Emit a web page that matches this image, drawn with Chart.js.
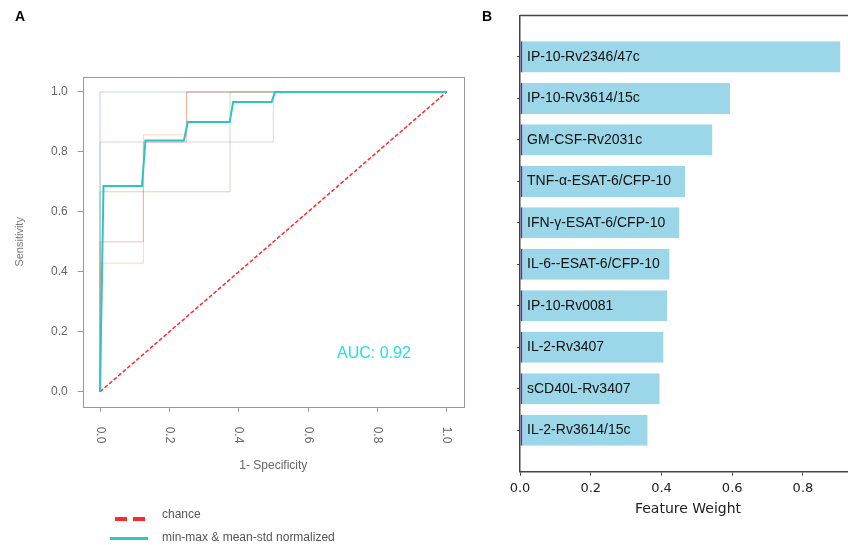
<!DOCTYPE html>
<html>
<head>
<meta charset="utf-8">
<script src="https://cdn.jsdelivr.net/npm/chart.js@4/dist/chart.umd.min.js"></script>
<style>
  body { margin: 0; width: 848px; height: 545px; overflow: hidden; background: #fff; position: relative; font-family: "Liberation Sans", Arial, sans-serif; }
  #roc { position: absolute; left: 0; top: 0; }
  #weights { position: absolute; left: 490px; top: 0; }
  .panel { position: absolute; font-weight: bold; font-size: 14px; line-height: 15px; color: #000; }
  .leg { position: absolute; font-size: 12px; color: #555; line-height: 14px; }
  .sw { position: absolute; }
</style>
</head>
<body>
<canvas id="roc" width="500" height="545"></canvas>
<canvas id="weights" width="370" height="545"></canvas>
<div class="panel" style="left:15px;top:9px">A</div>
<div class="panel" style="left:482px;top:9px">B</div>

<!-- legend for panel A -->
<div class="sw" style="left:115px;top:517px;width:12px;height:4px;background:#ff2a2a"></div>
<div class="sw" style="left:133px;top:517px;width:12px;height:4px;background:#ff2a2a"></div>
<div class="leg" style="left:162px;top:507px">chance</div>
<div class="sw" style="left:110px;top:537px;width:38px;height:3px;background:#2ec8c8"></div>
<div class="leg" style="left:162px;top:530px">min-max &amp; mean-std normalized</div>

<script>
// ROC curves, one per fold (1 - specificity, sensitivity)
const fold1Fpr = [0, 0, 1];
const fold1Tpr = [0, 1, 1];
const fold2Fpr = [0, 0, 0.125, 0.125, 0.25, 0.25, 1];
const fold2Tpr = [0, 0.429, 0.429, 0.857, 0.857, 1, 1];
const fold3Fpr = [0, 0, 0.375, 0.375, 1];
const fold3Tpr = [0, 0.667, 0.667, 1, 1];
const fold4Fpr = [0, 0, 0.125, 0.125, 0.25, 0.25, 1];
const fold4Tpr = [0, 0.5, 0.5, 0.833, 0.833, 1, 1];
const fold5Fpr = [0, 0, 0.5, 0.5, 1];
const fold5Tpr = [0, 0.833, 0.833, 1, 1];
const foldColors = ["rgba(31,119,180,0.3)", "rgba(255,127,14,0.3)", "rgba(44,160,44,0.3)", "rgba(214,39,40,0.3)", "rgba(148,103,189,0.3)"];

const meanFpr = [0, 0.01, 0.121, 0.131, 0.242, 0.253, 0.374, 0.384, 0.495, 0.505, 1];
const meanTpr = [0, 0.686, 0.686, 0.838, 0.838, 0.9, 0.9, 0.967, 0.967, 1, 1];
const chanceFpr = [0, 1];
const chanceTpr = [0, 1];
const aucText = "AUC: 0.92";

// feature weights for panel B
const featureNames = [
  "IP-10-Rv2346/47c", "IP-10-Rv3614/15c", "GM-CSF-Rv2031c", "TNF-\u03b1-ESAT-6/CFP-10",
  "IFN-\u03b3-ESAT-6/CFP-10", "IL-6--ESAT-6/CFP-10", "IP-10-Rv0081", "IL-2-Rv3407",
  "sCD40L-Rv3407", "IL-2-Rv3614/15c"
];
const featureWeights = [0.906, 0.594, 0.544, 0.467, 0.451, 0.423, 0.417, 0.406, 0.395, 0.361];

const pts = (xs, ys) => xs.map((x, i) => ({ x, y: ys[i] }));

const folds = [[fold1Fpr, fold1Tpr], [fold2Fpr, fold2Tpr], [fold3Fpr, fold3Tpr], [fold4Fpr, fold4Tpr], [fold5Fpr, fold5Tpr]];

// box, clockwise x labels and AUC text
const rocDecor = {
  id: "rocDecor",
  afterDraw(chart) {
    const { ctx, chartArea: a, scales: { x, y } } = chart;
    ctx.save();
    ctx.strokeStyle = "#999";
    ctx.lineWidth = 1;
    ctx.strokeRect(Math.round(a.left) + 0.5, Math.round(a.top) + 0.5, Math.round(a.width), Math.round(a.height));

    ctx.fillStyle = "#666";
    ctx.font = '12px "Liberation Sans", Arial, sans-serif';
    ctx.textAlign = "left";
    ctx.textBaseline = "middle";
    x.ticks.forEach(t => {
      ctx.save();
      ctx.translate(x.getPixelForValue(t.value), a.bottom + 20);
      ctx.rotate(Math.PI / 2);
      ctx.fillText(t.value.toFixed(1), 0, 0);
      ctx.restore();
    });

    ctx.fillStyle = "#1ee0ee";
    ctx.font = '16px "Liberation Sans", Arial, sans-serif';
    ctx.textAlign = "center";
    ctx.fillText(aucText, x.getPixelForValue(0.79), y.getPixelForValue(0.126));
    ctx.restore();
  }
};

new Chart(document.getElementById("roc"), {
  type: "scatter",
  data: {
    datasets: [
      { data: pts(meanFpr, meanTpr), showLine: true, borderColor: "#2ec4c4", borderWidth: 2, order: 0 },
      { data: pts(chanceFpr, chanceTpr), showLine: true, borderColor: "#ff2a2a", borderWidth: 1.5, borderDash: [4, 2], order: 1 },
      ...folds.map((f, i) => ({ data: pts(f[0], f[1]), showLine: true, borderColor: foldColors[i], borderWidth: 1, order: 2 }))
    ]
  },
  options: {
    responsive: false,
    animation: false,
    layout: { padding: { top: 77, right: 36, left: 0, bottom: 0 } },
    elements: { point: { radius: 0 }, line: { tension: 0 } },
    plugins: { legend: { display: false }, tooltip: { enabled: false } },
    scales: {
      x: {
        type: "linear", min: -0.05, max: 1.05,
        ticks: { stepSize: 0.2, includeBounds: false, color: "rgba(0,0,0,0)", minRotation: 90, maxRotation: 90, callback: v => v.toFixed(1) },
        grid: { drawOnChartArea: false, tickLength: 5, color: "#999" },
        border: { display: false },
        title: { display: true, text: "1- Specificity", color: "#666", font: { size: 12, family: '"Liberation Sans", Arial' }, padding: { bottom: 72 } },
        afterFit: s => { s.height = 138.3; }
      },
      y: {
        type: "linear", min: -0.05, max: 1.05,
        ticks: { stepSize: 0.2, includeBounds: false, color: "#666", padding: 10, font: { size: 12, family: '"Liberation Sans", Arial' }, callback: v => v.toFixed(1) },
        grid: { drawOnChartArea: false, tickLength: 5, color: "#999" },
        border: { display: false },
        title: { display: true, text: "Sensitivity", color: "#777", font: { size: 11, family: '"Liberation Sans", Arial' }, padding: { top: 13 } },
        afterFit: s => { s.width = 82.7; }
      }
    }
  },
  plugins: [rocDecor]
});

// top spine of panel B
const topSpine = {
  id: "topSpine",
  afterDraw(chart) {
    const { ctx, chartArea: a } = chart;
    ctx.save();
    ctx.strokeStyle = "#444";
    ctx.lineWidth = 1.5;
    ctx.beginPath();
    ctx.moveTo(a.left, a.top);
    ctx.lineTo(a.right, a.top);
    ctx.stroke();
    ctx.restore();
  }
};

new Chart(document.getElementById("weights"), {
  type: "bar",
  data: {
    datasets: [{
      data: featureWeights.map((w, i) => ({ x: w, y: i })),
      backgroundColor: "#9bd7e8",
      borderColor: "#4a3fa5",
      borderWidth: { left: 2, right: 0, top: 0, bottom: 0 },
      borderSkipped: false,
      barPercentage: 0.75,
      categoryPercentage: 1
    }]
  },
  options: {
    indexAxis: "y",
    responsive: false,
    animation: false,
    layout: { padding: { top: 14, right: 4, left: 0, bottom: 0 } },
    plugins: { legend: { display: false }, tooltip: { enabled: false } },
    scales: {
      x: {
        type: "linear", min: 0, max: 0.95,
        ticks: { stepSize: 0.2, includeBounds: false, color: "#222", padding: 5, font: { family: '"DejaVu Sans"', size: 13 }, callback: v => v.toFixed(1) },
        grid: { drawOnChartArea: false, tickLength: 4, color: "#444" },
        border: { display: true, color: "#444", width: 1.5 },
        title: { display: true, text: "Feature Weight", color: "#222", font: { family: '"DejaVu Sans"', size: 14 }, padding: { bottom: 27 } },
        afterFit: s => { s.height = 73.3; }
      },
      y: {
        type: "linear", reverse: true, min: -1, max: 10, offset: false,
        afterBuildTicks: s => { s.ticks = featureNames.map((_, i) => ({ value: i })); },
        ticks: { z: 1, mirror: true, padding: 7, color: "#111", autoSkip: false, font: { family: '"Liberation Sans", Arial', size: 14 }, callback: v => featureNames[v] },
        grid: { offset: false, drawOnChartArea: false, tickLength: 3, color: "#444" },
        border: { display: true, color: "#444", width: 1.5 },
        afterFit: s => { s.width = 30; }
      }
    }
  },
  plugins: [topSpine]
});
</script>
</body>
</html>
